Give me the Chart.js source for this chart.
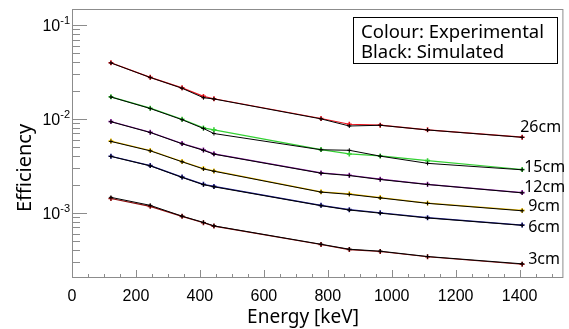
<!DOCTYPE html>
<html>
<head>
<meta charset="utf-8">
<script src="https://cdn.jsdelivr.net/npm/chart.js@4/dist/chart.umd.min.js"></script>
<style>
  html, body { margin: 0; padding: 0; background: #fff; }
  #wrap { width: 569px; height: 329px; }
</style>
</head>
<body>
<div id="wrap"><canvas id="c" width="569" height="329"></canvas></div>
<script>
// gamma line energies [keV]
const energies = [121.78, 244.70, 344.28, 411.12, 443.96, 778.90, 867.38, 964.08, 1112.08, 1408.01];

// experimental efficiencies
const exp26 = [0.0396, 0.0277, 0.0214, 0.01735, 0.01637, 0.0101, 0.00877, 0.00858, 0.00764, 0.00638];
const exp15 = [0.01718, 0.0130, 0.0099, 0.00802, 0.00764, 0.00471, 0.00423, 0.00403, 0.00359, 0.00289];
const exp12 = [0.00938, 0.00721, 0.00547, 0.00467, 0.00424, 0.00266, 0.00251, 0.00228, 0.00201, 0.00164];
const exp9  = [0.0058, 0.00461, 0.00352, 0.00296, 0.00279, 0.00167, 0.00159, 0.00145, 0.00127, 0.00106];
const exp6  = [0.0040, 0.00318, 0.0024, 0.00201, 0.00191, 0.0012, 0.00108, 0.0010, 0.000887, 0.00074];
const exp3  = [0.00142, 0.00117, 0.000916, 0.000784, 0.000721, 0.000459, 0.000406, 0.000387, 0.00034, 0.000283];

// simulated efficiencies
const sim26 = [0.0394, 0.0276, 0.0212, 0.0168, 0.0163, 0.0100, 0.0084, 0.00855, 0.00762, 0.00636];
const sim15 = [0.0171, 0.0129, 0.0098, 0.0079, 0.00698, 0.00469, 0.00463, 0.00401, 0.00336, 0.00287];
const sim12 = [0.00932, 0.00716, 0.00543, 0.00463, 0.00421, 0.00264, 0.00249, 0.00226, 0.00200, 0.00163];
const sim9  = [0.00575, 0.00457, 0.00349, 0.00293, 0.00277, 0.00166, 0.00157, 0.00144, 0.00126, 0.00105];
const sim6  = [0.00398, 0.00316, 0.00238, 0.00199, 0.00189, 0.00119, 0.00107, 0.00099, 0.00088, 0.000735];
const sim3  = [0.00146, 0.0012, 0.00092, 0.00079, 0.000725, 0.000462, 0.000409, 0.00039, 0.000342, 0.000286];

const distances = ['26cm', '15cm', '12cm', '9cm', '6cm', '3cm'];
const expSeries = [exp26, exp15, exp12, exp9, exp6, exp3];
const simSeries = [sim26, sim15, sim12, sim9, sim6, sim3];
const colours = ['#e8141e', '#33d133', '#8a1aa0', '#f2c200', '#1a1a8c', '#8c0a0a'];

const yTicks = [1e-3, 1e-2, 1e-1];
const yTickExp = ['-3', '-2', '-1'];
const xTicks = [0, 200, 400, 600, 800, 1000, 1200, 1400];

const pts = arr => arr.map((v, i) => ({x: energies[i], y: v}));

const datasets = [];
distances.forEach((d, k) => {
    datasets.push({
        label: d + ' sim',
        data: pts(simSeries[k]),
        borderColor: '#000',
        backgroundColor: '#000',
        borderWidth: 1,
        pointStyle: 'cross',
        pointRadius: 2,
        pointBorderWidth: 1,
        order: 0
    });
    datasets.push({
        label: d,
        data: pts(expSeries[k]),
        borderColor: colours[k],
        backgroundColor: colours[k],
        borderWidth: 1.2,
        pointStyle: 'cross',
        pointRadius: 2.5,
        pointBorderWidth: 1.6,
        order: 1
    });
});

const mainFont = '"Noto Sans", "DejaVu Sans", sans-serif';
const tickFont = '"Liberation Sans", Arial, sans-serif';

// ROOT-like frame, inward ticks, titles and annotations
const decor = {
    id: 'decor',
    afterDraw(chart) {
        const {ctx, chartArea: a, scales: {x, y}} = chart;
        ctx.save();
        ctx.strokeStyle = '#8c8c8c';
        ctx.lineWidth = 1;
        ctx.strokeRect(a.left + 0.5, a.top + 0.5, a.right - a.left - 1, a.bottom - a.top - 1);
        ctx.beginPath();
        // x ticks
        for (let v = 0; v <= x.max; v += 50) {
            const px = Math.round(x.getPixelForValue(v)) + 0.5;
            const len = v % 200 === 0 ? 8 : 4;
            ctx.moveTo(px, a.bottom);
            ctx.lineTo(px, a.bottom - len);
        }
        // y ticks
        for (let e = -4; e <= -1; e++) {
            for (let m = 1; m <= 9; m++) {
                const v = m * Math.pow(10, e);
                if (v < y.min || v > y.max) continue;
                const py = Math.round(y.getPixelForValue(v)) + 0.5;
                const len = m === 1 ? 15 : 8;
                ctx.moveTo(a.left, py);
                ctx.lineTo(a.left + len, py);
            }
        }
        ctx.stroke();

        // y tick labels with superscript exponents
        ctx.fillStyle = '#000';
        ctx.textBaseline = 'alphabetic';
        yTicks.forEach((v, i) => {
            const py = y.getPixelForValue(v);
            ctx.font = '11px ' + tickFont;
            ctx.textAlign = 'right';
            const ew = ctx.measureText(yTickExp[i]).width;
            ctx.fillText(yTickExp[i], 70, py - 1);
            ctx.font = '16px ' + tickFont;
            ctx.fillText('10', 70 - ew, py + 6);
        });

        // axis titles
        ctx.font = '19px ' + mainFont;
        ctx.textAlign = 'center';
        ctx.textBaseline = 'middle';
        ctx.fillText('Energy [keV]', 303, 318);
        ctx.save();
        ctx.translate(25, 168);
        ctx.rotate(-Math.PI / 2);
        ctx.font = '20px ' + mainFont;
        ctx.fillText('Efficiency', 0, 0);
        ctx.restore();

        // distance labels next to last points
        const offs = [[-2, -10], [2, -2], [2, -5], [6, -4], [6, 2], [6, -5]];
        ctx.font = '16px ' + mainFont;
        ctx.textAlign = 'left';
        distances.forEach((d, k) => {
            const s = expSeries[k];
            const px = x.getPixelForValue(energies[energies.length - 1]);
            const py = y.getPixelForValue(s[s.length - 1]);
            ctx.fillText(d, px + offs[k][0], py + offs[k][1]);
        });

        // legend box
        ctx.fillStyle = '#fff';
        ctx.fillRect(353, 17, 204, 46);
        ctx.strokeStyle = '#000';
        ctx.strokeRect(353.5, 17.5, 204, 46);
        ctx.fillStyle = '#000';
        ctx.font = '18.5px ' + mainFont;
        ctx.fillText('Colour: Experimental', 361, 33);
        ctx.fillText('Black: Simulated', 361, 53);
        ctx.restore();
    }
};

new Chart(document.getElementById('c'), {
    type: 'line',
    data: { datasets: datasets },
    plugins: [decor],
    options: {
        responsive: false,
        animation: false,
        layout: { padding: { top: 9, right: 2, left: 0, bottom: 0 } },
        elements: { line: { tension: 0 } },
        plugins: {
            legend: { display: false },
            tooltip: { enabled: false },
            title: { display: false }
        },
        scales: {
            x: {
                type: 'linear',
                min: 0,
                max: 1537,
                grid: { display: false },
                border: { display: false },
                afterBuildTicks: s => { s.ticks = xTicks.map(v => ({value: v})); },
                afterFit: s => { s.height = 51; },
                ticks: {
                    padding: 1,
                    color: '#000',
                    font: { family: tickFont, size: 16 },
                    maxRotation: 0,
                    autoSkip: false,
                    callback: v => String(v)
                }
            },
            y: {
                type: 'logarithmic',
                min: 2.02e-4,
                max: 0.148,
                grid: { display: false },
                border: { display: false },
                afterBuildTicks: s => { s.ticks = yTicks.map(v => ({value: v})); },
                afterFit: s => { s.width = 72; },
                ticks: { display: false }
            }
        }
    }
});
</script>
</body>
</html>
